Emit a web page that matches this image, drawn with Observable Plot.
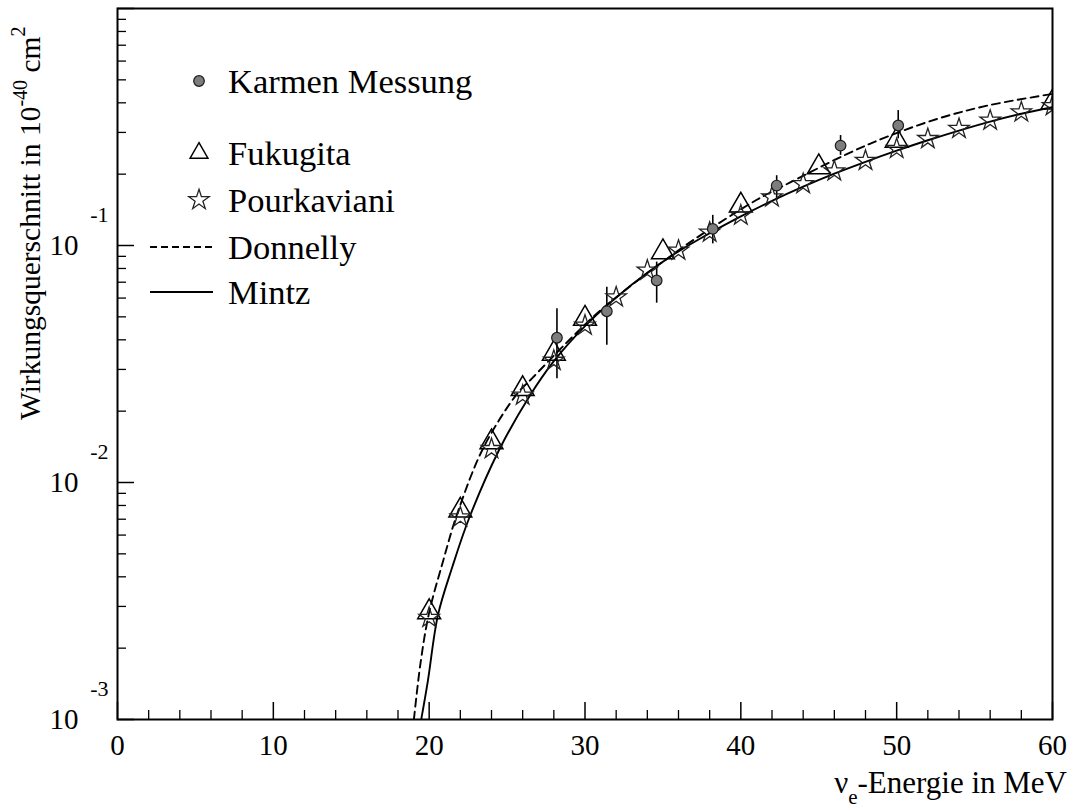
<!DOCTYPE html>
<html>
<head>
<meta charset="utf-8">
<script src="https://cdn.jsdelivr.net/npm/d3@7"></script>
<script src="https://cdn.jsdelivr.net/npm/@observablehq/plot@0.6"></script>
<style>
  html, body { margin: 0; padding: 0; background: #fff; }
  svg { display: block; }
  svg text, svg tspan { font-family: "Liberation Serif", "DejaVu Serif", serif !important; }
</style>
</head>
<body>
<div id="chart"></div>
<script>
// ---------- ticks ----------
const xMajorTicks = [0, 10, 20, 30, 40, 50, 60];
const xMinorTicks = [2, 4, 6, 8, 12, 14, 16, 18, 22, 24, 26, 28, 32, 34, 36, 38, 42, 44, 46, 48, 52, 54, 56, 58];
const yMajorTicks = [0.001, 0.01, 0.1, 1];
const yLabelTicks = [0.001, 0.01, 0.1];
const yTickBase = ["10", "10", "10"];
const yTickExponent = ["-3", "-2", "-1"];
const yMinorTicks = [0.002, 0.003, 0.004, 0.005, 0.006, 0.007, 0.008, 0.009,
                     0.02, 0.03, 0.04, 0.05, 0.06, 0.07, 0.08, 0.09,
                     0.2, 0.3, 0.4, 0.5, 0.6, 0.7, 0.8, 0.9];

// ---------- data ----------
// Karmen Messung (measurement with error bars)
const karmenE     = [28.2, 31.4, 34.6, 38.2, 42.3, 46.4, 50.1];
const karmenSigma = [0.0408, 0.0528, 0.0712, 0.1175, 0.179, 0.264, 0.321];
const karmenLow   = [0.0274, 0.0379, 0.0571, 0.1016, 0.155, 0.240, 0.282];
const karmenHigh  = [0.0541, 0.0667, 0.0851, 0.134, 0.197, 0.291, 0.371];

// Fukugita (triangles)
const fukugitaE     = [20, 22, 24, 26, 28, 30, 35, 40, 45, 50, 60];
const fukugitaSigma = [0.00284, 0.00762, 0.01479, 0.0248, 0.0350, 0.0491, 0.0937, 0.1475, 0.214, 0.277, 0.402];

// Pourkaviani (stars)
const pourkavianiE     = [20, 22, 24, 26, 28, 30, 32, 34, 36, 38, 40, 42, 44, 46, 48, 50, 52, 54, 56, 58, 60];
const pourkavianiSigma = [0.00269, 0.00714, 0.01387, 0.0233, 0.0327, 0.0460, 0.0605, 0.0785, 0.0953, 0.1135,
                          0.134, 0.160, 0.182, 0.206, 0.228, 0.256, 0.282, 0.311, 0.337, 0.365, 0.388];

// Donnelly (dashed curve)
const donnellyE     = [19.02, 19.44, 19.98, 20.9, 21.8, 23.5, 25.65, 26.6, 28.75, 30.8, 32.9, 35, 37, 41, 43.2, 46.8, 49.4, 52.6, 55.8, 60];
const donnellySigma = [0.00100, 0.00172, 0.00279, 0.00468, 0.00738, 0.0141, 0.0237, 0.0275, 0.0385, 0.0519,
                       0.0673, 0.0855, 0.106, 0.1556, 0.185, 0.243, 0.288, 0.342, 0.389, 0.436];

// Mintz (solid curve)
const mintzE     = [19.49, 19.92, 20.56, 21.5, 22.55, 24.47, 26.4, 28, 30, 32, 34, 36, 38, 40, 42, 44, 46, 48, 50, 52, 54, 56, 58, 60];
const mintzSigma = [0.00100, 0.00146, 0.00275, 0.00443, 0.00703, 0.01365, 0.0229, 0.0325, 0.0457, 0.0603,
                    0.0767, 0.0944, 0.1127, 0.1327, 0.1542, 0.177, 0.2009, 0.2254, 0.2512, 0.278,
                    0.3055, 0.3334, 0.3597, 0.3837];

// legend labels
const legendLabels = ["Karmen Messung", "Fukugita", "Pourkaviani", "Donnelly", "Mintz"];

// ---------- tables ----------
const karmen = karmenE.map((e, i) => ({e, s: karmenSigma[i], lo: karmenLow[i], hi: karmenHigh[i]}));
const fukugita = fukugitaE.map((e, i) => ({e, s: fukugitaSigma[i]}));
const pourkaviani = pourkavianiE.map((e, i) => ({e, s: pourkavianiSigma[i]}));
const donnelly = donnellyE.map((e, i) => ({e, s: donnellySigma[i]}));
const mintz = mintzE.map((e, i) => ({e, s: mintzSigma[i]}));

// ---------- layout ----------
const W = 1072, H = 811;
const mL = 117, mR = 20, mT = 8, mB = 92;
const innerW = W - mL - mR, innerH = H - mT - mB;
const majorLen = 17, minorLen = 9;
const FONT = "Liberation Serif, DejaVu Serif, serif";
const starR = 6.4, triR = 8.5, karmenR = 5.3;

const chart = Plot.plot({
  width: W, height: H,
  marginLeft: mL, marginRight: mR, marginTop: mT, marginBottom: mB,
  style: {fontFamily: FONT, background: "white", color: "black"},
  x: {domain: [0, 60]},
  y: {type: "log", domain: [0.001, 1]},
  marks: [
    // inward ticks on the x axis
    Plot.tickX(xMajorTicks, {x: d => d, insetTop: innerH - majorLen, stroke: "black", strokeWidth: 1.5}),
    Plot.tickX(xMinorTicks, {x: d => d, insetTop: innerH - minorLen, stroke: "black", strokeWidth: 1.3}),
    // inward ticks on the y axis
    Plot.tickY(yMajorTicks, {y: d => d, insetRight: innerW - majorLen, stroke: "black", strokeWidth: 1.5}),
    Plot.tickY(yMinorTicks, {y: d => d, insetRight: innerW - minorLen, stroke: "black", strokeWidth: 1.3}),
    // tick labels
    Plot.axisX({ticks: xMajorTicks, tickSize: 0, tickPadding: 15, fontSize: 29, label: null,
                tickFormat: d => String(d)}),
    Plot.axisY({ticks: yLabelTicks, tickSize: 0, tickPadding: 39, fontSize: 29, label: null,
                tickFormat: (d) => yTickBase[yLabelTicks.indexOf(d)]}),
    Plot.axisY({ticks: yLabelTicks, tickSize: 0, tickPadding: 9, fontSize: 22, label: null, dy: -31,
                tickFormat: (d) => yTickExponent[yLabelTicks.indexOf(d)]}),
    // curves
    Plot.line(donnelly, {x: "e", y: "s", curve: "catmull-rom", stroke: "black", strokeWidth: 1.9,
                         strokeDasharray: "8,5", clip: true}),
    Plot.line(mintz, {x: "e", y: "s", curve: "catmull-rom", stroke: "black", strokeWidth: 1.9, clip: true}),
    // Karmen error bars
    Plot.ruleX(karmen, {x: "e", y1: "lo", y2: "hi", stroke: "black", strokeWidth: 1.6}),
    // model points
    Plot.dot(fukugita, {x: "e", y: "s", symbol: "triangle", r: triR, stroke: "black", fill: "white",
                        fillOpacity: 0, strokeWidth: 1.5, clip: true}),
    Plot.dot(pourkaviani, {x: "e", y: "s", symbol: "star", r: starR, stroke: "#222", fill: "none",
                           strokeWidth: 1.3, clip: true}),
    // measurement
    Plot.dot(karmen, {x: "e", y: "s", symbol: "circle", r: karmenR, fill: "#7d7d7d", stroke: "#1a1a1a",
                      strokeWidth: 1.2}),
    Plot.frame({stroke: "black", strokeWidth: 2})
  ]
});

document.getElementById("chart").appendChild(chart);

// ---------- titles & legend ----------
const svg = d3.select(chart);

// y axis title (rotated)
const yTitle = svg.append("text")
  .attr("transform", "translate(40,420) rotate(-90)")
  .attr("font-family", FONT).attr("font-size", 29.5).attr("fill", "black")
  .attr("text-anchor", "start");
yTitle.append("tspan").text("Wirkungsquerschnitt in 10");
yTitle.append("tspan").attr("font-size", 20).attr("dy", -13).text("-40");
yTitle.append("tspan").attr("dy", 13).text(" cm");
yTitle.append("tspan").attr("font-size", 20).attr("dy", -15).text("2");

// x axis title
const xTitle = svg.append("text")
  .attr("x", 1067).attr("y", 793)
  .attr("font-family", FONT).attr("font-size", 31).attr("fill", "black")
  .attr("text-anchor", "end");
xTitle.append("tspan").text("ν");
xTitle.append("tspan").attr("font-size", 21).attr("dy", 11).text("e");
xTitle.append("tspan").attr("dy", -11).text("-Energie in MeV");

// legend
const lg = svg.append("g").attr("font-family", FONT).attr("font-size", 34.5).attr("fill", "black")
  .attr("text-anchor", "start");
const symX = 199, textX = 228;
const rowsY = [81, 153, 200, 247, 292];
lg.append("path").attr("d", d3.symbol(d3.symbolCircle, Math.PI * karmenR * karmenR)())
  .attr("transform", `translate(${symX},${rowsY[0]})`).attr("fill", "#7d7d7d").attr("stroke", "#1a1a1a").attr("stroke-width", 1.2);
lg.append("path").attr("d", d3.symbol(d3.symbolTriangle2, Math.PI * triR * triR)())
  .attr("transform", `translate(${symX},${rowsY[1]})`).attr("fill", "none").attr("stroke", "black").attr("stroke-width", 1.5);
lg.append("path").attr("d", d3.symbol(d3.symbolStar, Math.PI * starR * starR)())
  .attr("transform", `translate(${symX},${rowsY[2]})`).attr("fill", "none").attr("stroke", "#222").attr("stroke-width", 1.3);
lg.append("line").attr("x1", 150).attr("x2", 213).attr("y1", rowsY[3]).attr("y2", rowsY[3])
  .attr("stroke", "black").attr("stroke-width", 1.8).attr("stroke-dasharray", "7,4");
lg.append("line").attr("x1", 150).attr("x2", 213).attr("y1", rowsY[4]).attr("y2", rowsY[4])
  .attr("stroke", "black").attr("stroke-width", 1.8);
legendLabels.forEach((t, i) => {
  lg.append("text").attr("x", textX).attr("y", rowsY[i]).attr("dy", "0.34em")
    .attr("text-anchor", "start").text(t);
});
</script>
</body>
</html>
